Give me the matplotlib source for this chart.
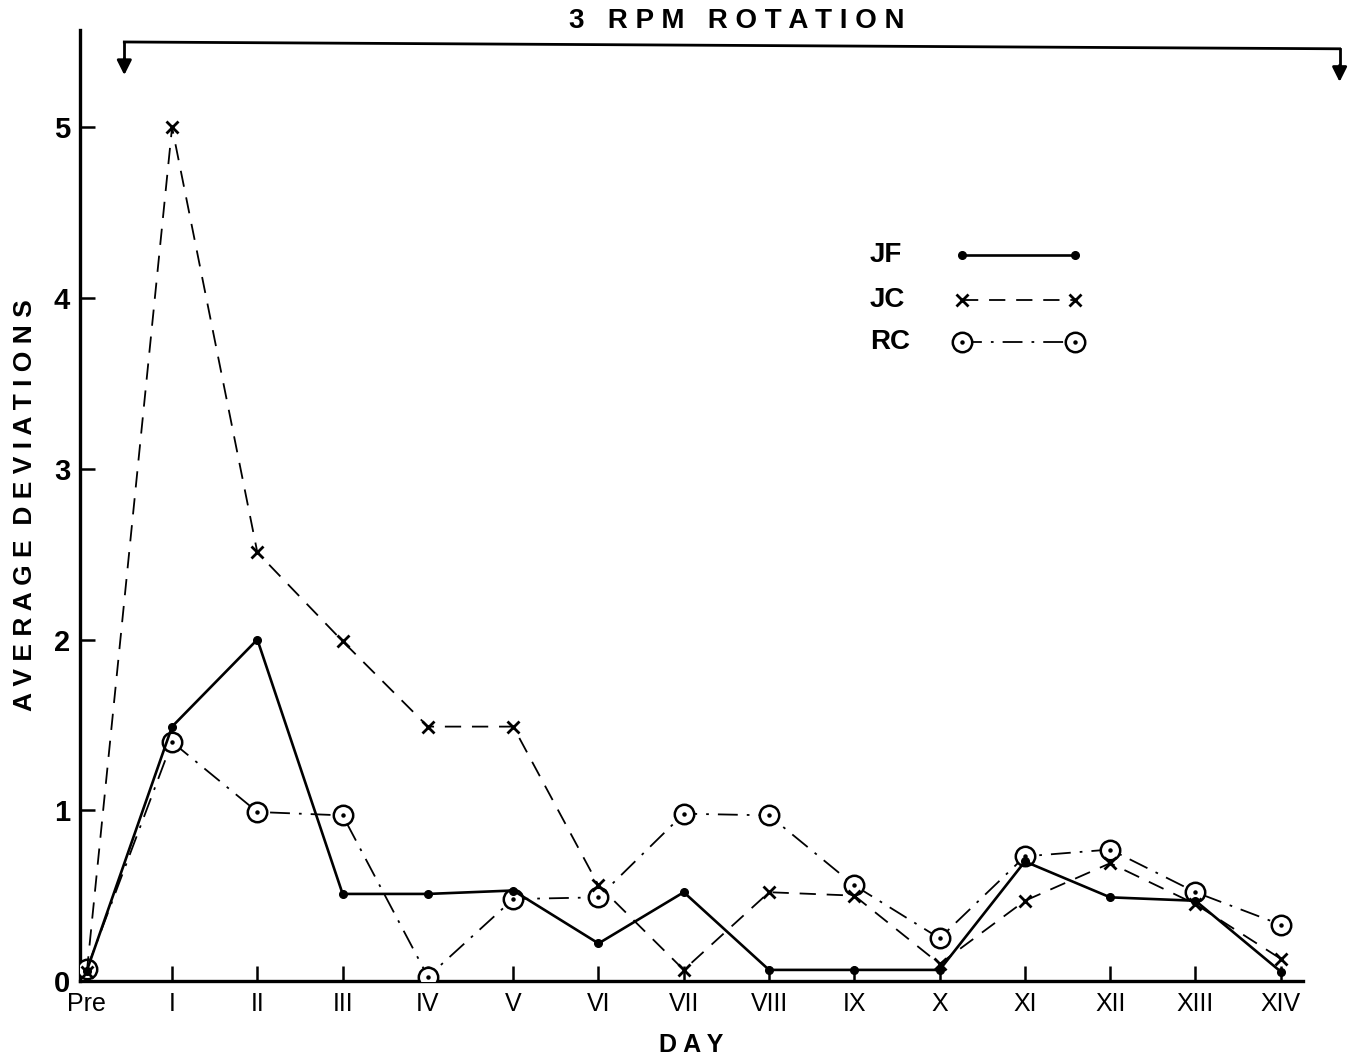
import matplotlib
matplotlib.use("Agg")
import matplotlib.pyplot as plt
from matplotlib.lines import Line2D
import numpy as np

days = ['Pre', 'I', 'II', 'III', 'IV', 'V', 'VI', 'VII', 'VIII', 'IX', 'X',
        'XI', 'XII', 'XIII', 'XIV']
jf = [0.06, 1.49, 2.00, 0.51, 0.51, 0.53, 0.22, 0.52, 0.065, 0.065, 0.065,
      0.70, 0.49, 0.47, 0.055]
jc = [0.05, 5.00, 2.51, 1.99, 1.49, 1.49, 0.56, 0.065, 0.52, 0.50, 0.10,
      0.47, 0.69, 0.45, 0.13]
rc = [0.07, 1.40, 0.99, 0.97, 0.025, 0.48, 0.49, 0.98, 0.97, 0.56, 0.25,
      0.73, 0.77, 0.52, 0.33]
yticks = [0, 1, 2, 3, 4, 5]
series_names = ['JF', 'JC', 'RC']

plt.rcParams['font.family'] = ['Liberation Sans', 'DejaVu Sans']

fig = plt.figure(figsize=(13.53, 10.57), dpi=100)
ax = fig.add_axes([0.0591, 0.0719, 0.9039, 0.8997])
x = np.arange(len(days))

jf_style = dict(color='black', lw=1.9, marker='o', ms=5.5)
jc_style = dict(color='black', lw=1.3, ls=(0, (9, 6)), marker='x', ms=9, mew=2.0)
rc_style = dict(color='black', lw=1.3, ls=(0, (11, 5, 1.5, 5)), marker='o',
                ms=14, mfc='white', mec='black', mew=1.8)
dot_style = dict(ls='none', marker='o', ms=2.2, color='black')

ax.plot(x, jf, zorder=5, **jf_style)
ax.plot(x, jc, zorder=4, **jc_style)
ax.plot(x, rc, zorder=3, **rc_style)
ax.plot(x, rc, zorder=3.5, **dot_style)

ax.set_xlim(-0.08, 14.26)
ax.set_ylim(0, 5.57)
ax.set_xticks(x)
ax.set_xticklabels(days, fontsize=18)
ax.set_yticks(yticks)
ax.set_yticklabels([str(v) for v in yticks], fontsize=21, fontweight='bold')
ax.tick_params(axis='both', direction='in', length=11, width=1.8, color='black')
ax.tick_params(axis='x', pad=8)
ax.tick_params(axis='y', pad=7)
for s in ['top', 'right']:
    ax.spines[s].set_visible(False)
for s in ['left', 'bottom']:
    ax.spines[s].set_linewidth(2.4)

ax.set_ylabel('A V E R A G E   D E V I A T I O N S'.replace('   ', '  '),
              fontsize=19, fontweight='bold', labelpad=12)
ax.set_xlabel('D A Y', fontsize=18, fontweight='bold', labelpad=12)

# bracket annotation
yb_left, yb_right = 5.50, 5.46
ax.plot([0.44, 14.69], [yb_left, yb_right], color='black', lw=2.0, clip_on=False)
ax.plot([0.44, 0.44], [yb_left, 5.40], color='black', lw=2.0, clip_on=False)
ax.plot([14.69, 14.69], [yb_right, 5.36], color='black', lw=2.0, clip_on=False)
ax.annotate('', xy=(0.44, 5.29), xytext=(0.44, 5.42),
            arrowprops=dict(arrowstyle='-|>', color='black', lw=2.0,
                            mutation_scale=22), annotation_clip=False)
ax.annotate('', xy=(14.69, 5.25), xytext=(14.69, 5.38),
            arrowprops=dict(arrowstyle='-|>', color='black', lw=2.0,
                            mutation_scale=22), annotation_clip=False)
ax.text(7.62, 5.62, '3   R P M   R O T A T I O N', fontsize=20, fontweight='bold',
        ha='center', va='center', clip_on=False)

# manual legend (labels left, sample line with markers at both ends)
tx = 0.646
hx0, hx1 = 0.721, 0.8136
rows = [0.763, 0.716, 0.672]
styles = [jf_style, jc_style, rc_style]
for name, yy, st in zip(series_names, rows, styles):
    ax.text(tx, yy, name, transform=ax.transAxes, fontsize=20,
            fontweight='bold', ha='left', va='center')
    ax.add_line(Line2D([hx0, hx1], [yy, yy], transform=ax.transAxes, **st))
    if st is rc_style:
        ax.add_line(Line2D([hx0, hx1], [yy, yy], transform=ax.transAxes,
                           **dot_style))

fig.savefig('out.png', dpi=100)
